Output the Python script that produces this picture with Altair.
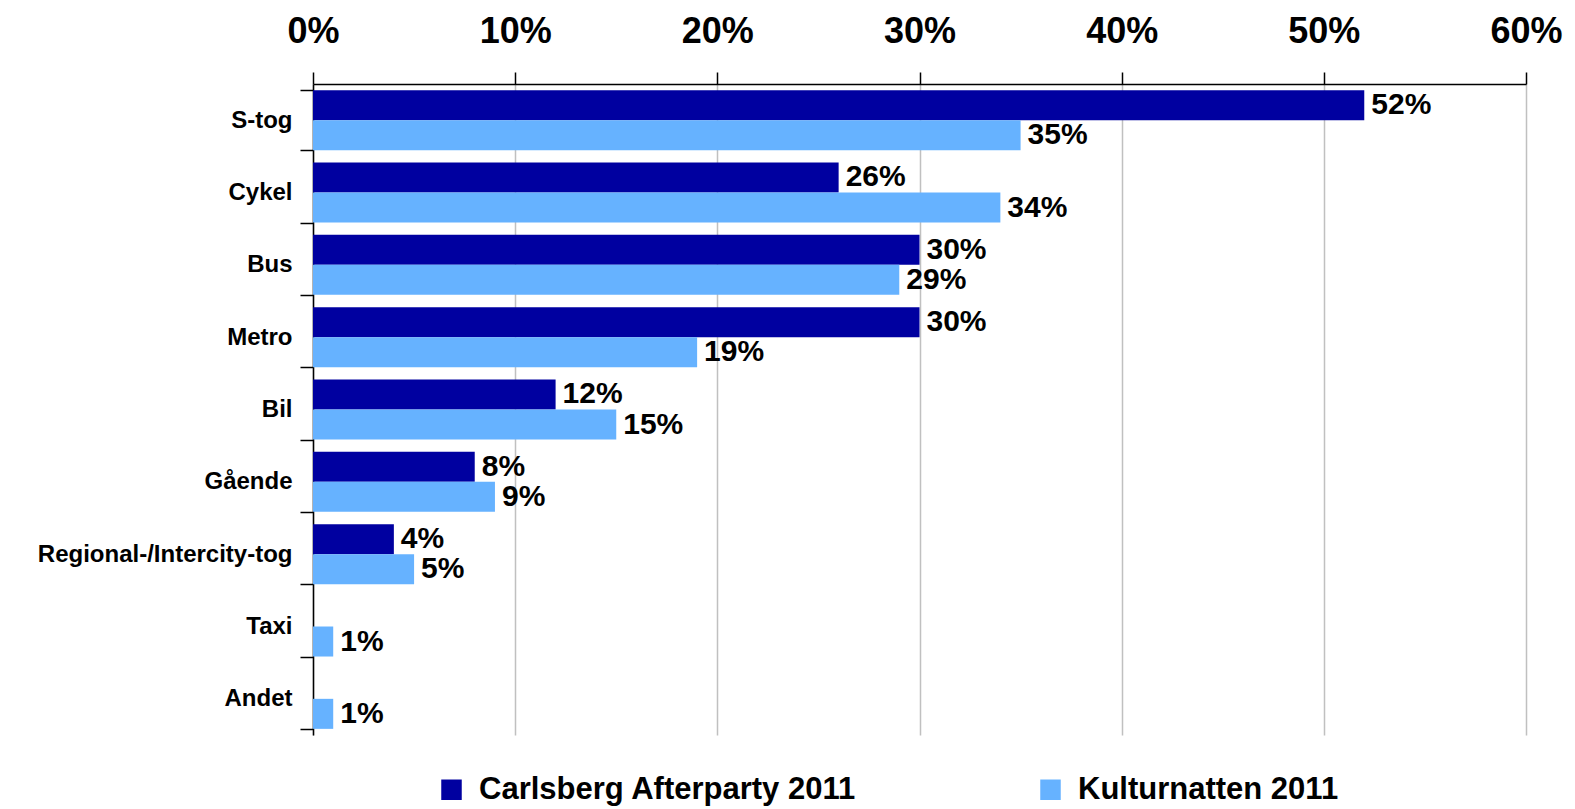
import altair as alt
import pandas as pd

categories = ["S-tog", "Cykel", "Bus", "Metro", "Bil", "Gående",
              "Regional-/Intercity-tog", "Taxi", "Andet"]
series = ["Carlsberg Afterparty 2011", "Kulturnatten 2011"]
carlsberg = [52, 26, 30, 30, 12, 8, 4, None, None]
kulturnatten = [35, 34, 29, 19, 15, 9, 5, 1, 1]
x_ticks = [0, 10, 20, 30, 40, 50, 60]
colors = ["#0000A0", "#66B2FF"]

rows = []
for c, a, b in zip(categories, carlsberg, kulturnatten):
    if a is not None:
        rows.append({"cat": c, "series": series[0], "value": a})
    if b is not None:
        rows.append({"cat": c, "series": series[1], "value": b})
df = pd.DataFrame(rows)
df["label"] = df["value"].astype(int).astype(str) + "%"

FONT = "Liberation Sans"

base = alt.Chart(df).encode(
    y=alt.Y(
        "cat:N", sort=categories,
        scale=alt.Scale(paddingInner=0.17, paddingOuter=0.085),
        axis=alt.Axis(
            title=None, tickBand="extent", labelFont=FONT, labelFontSize=24,
            labelFontWeight="bold", labelColor="black", labelPadding=8,
            labelLimit=400,
            tickSize=13, tickColor="black", tickWidth=1.5,
            domainColor="black", domainWidth=1.5, grid=False,
        ),
    ),
    yOffset=alt.YOffset("series:N", sort=series,
                        scale=alt.Scale(paddingInner=0, paddingOuter=0)),
)

bars = base.mark_bar().encode(
    x=alt.X(
        "value:Q",
        scale=alt.Scale(domain=[0, 60], nice=False),
        axis=alt.Axis(
            orient="top", values=x_ticks, labelExpr="datum.value + '%'",
            title=None, labelFont=FONT, labelFontSize=36, labelFontWeight="bold",
            labelColor="black", labelPadding=22, labelFlush=False,
            labelOverlap=False, tickSize=12, tickColor="black",
            tickWidth=1.5, domainColor="black", domainWidth=1.5,
            grid=True, gridColor="#c0c0c0", gridWidth=1.5,
        ),
    ),
    color=alt.Color(
        "series:N",
        scale=alt.Scale(domain=series, range=colors),
        legend=alt.Legend(
            title=None, orient="none", legendX=123, legendY=690,
            direction="horizontal", symbolType="square", symbolSize=420,
            symbolStrokeWidth=0, labelFont=FONT, labelFontSize=31,
            labelFontWeight="bold", labelColor="black", labelOffset=12,
            columnPadding=178, labelLimit=700,
        ),
    ),
)

labels = base.mark_text(
    align="left", baseline="middle", dx=7, fontSize=30,
    fontWeight="bold", font=FONT, color="black",
).encode(x="value:Q", text="label:N")

chart = (bars + labels).properties(
    width=1213, height=651,
    autosize=alt.AutoSizeParams(type="none"),
    padding={"left": 305, "top": 76, "right": 40, "bottom": 73},
).configure_view(stroke=None)

chart.save("out.html", embed_options={"renderer": "svg", "actions": False})
